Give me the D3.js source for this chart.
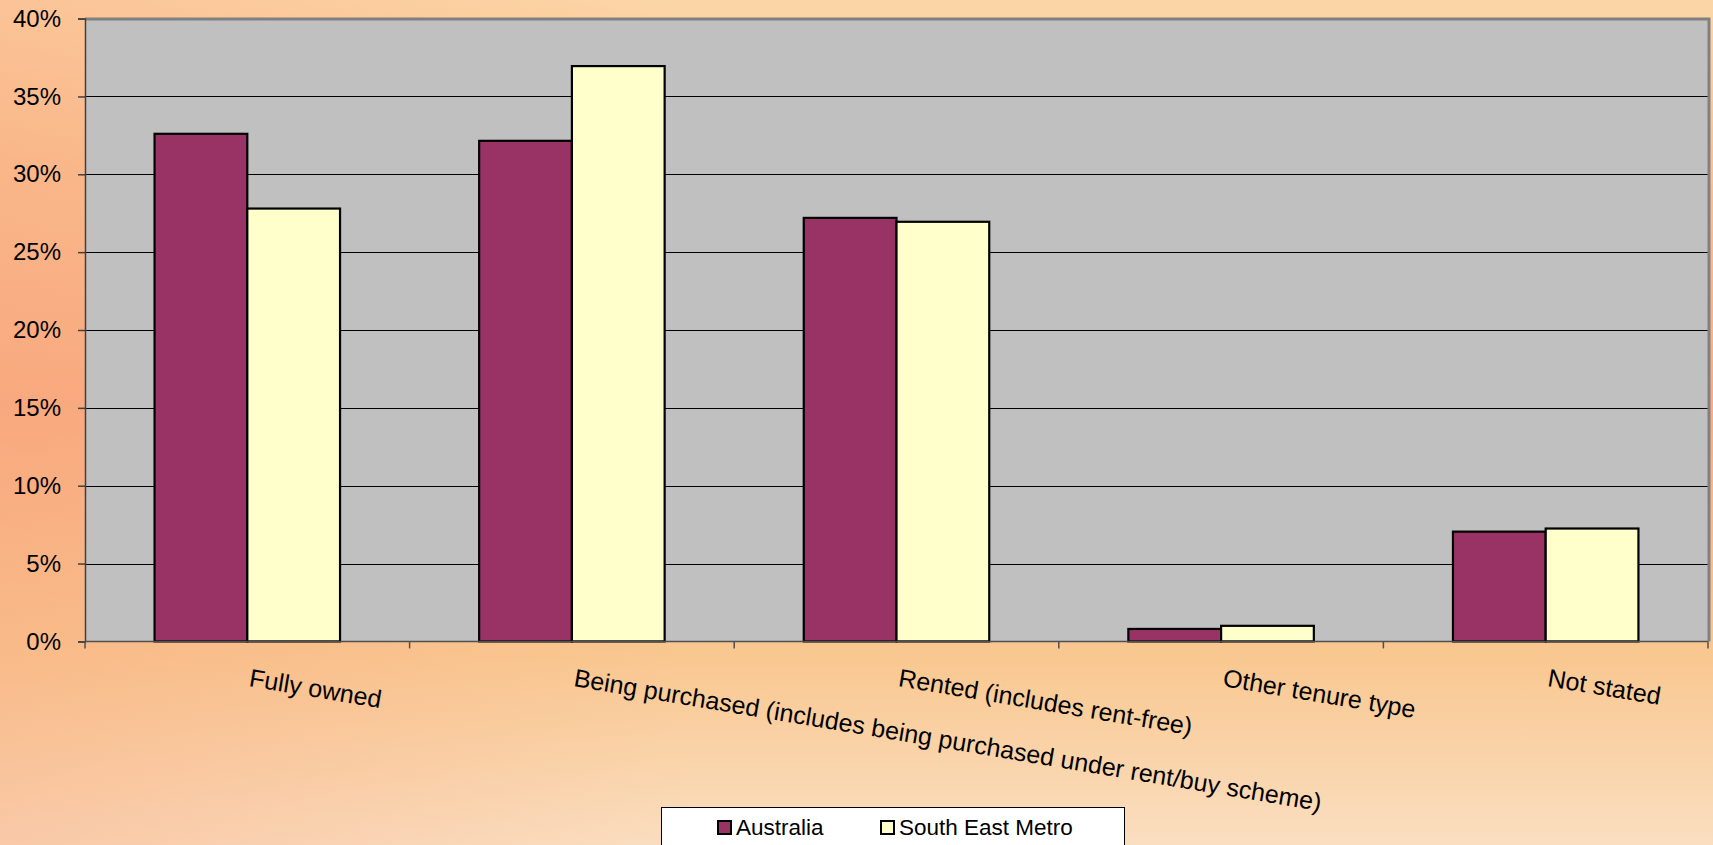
<!DOCTYPE html>
<html>
<head>
<meta charset="utf-8">
<script src="https://cdn.jsdelivr.net/npm/d3@7"></script>
<style>
  body { margin: 0; background: #fff; }
  svg { display: block; font-family: "Liberation Sans", Arial, sans-serif; }
</style>
</head>
<body>
<div id="chart"></div>
<script>
// data
var categories = ["Fully owned",
    "Being purchased (includes being purchased under rent/buy scheme)",
    "Rented (includes rent-free)",
    "Other tenure type",
    "Not stated"];
var seriesNames = ["Australia", "South East Metro"];
var australia = [32.6, 32.15, 27.2, 0.8, 7.05];
var southEastMetro = [27.8, 36.95, 26.95, 1.0, 7.25];
var yTicks = [0, 5, 10, 15, 20, 25, 30, 35, 40];
var colors = ["#993366", "#FFFFCC"];

var width = 1713, height = 845;
var plot = {left: 85, top: 18.6, right: 1708, bottom: 641.4};

var svg = d3.select("#chart").append("svg")
    .attr("width", width)
    .attr("height", height);

// background gradient
var defs = svg.append("defs");
var grad = defs.append("linearGradient")
    .attr("id", "bg").attr("x1", 0).attr("y1", 0).attr("x2", 0).attr("y2", 1);
[["0%", "#FCD6A7"], ["20%", "#FAC190"], ["48%", "#F9AC80"], ["78%", "#F9C891"], ["100%", "#FADEC0"]]
    .forEach(function (s) { grad.append("stop").attr("offset", s[0]).attr("stop-color", s[1]); });

var side = defs.append("linearGradient")
    .attr("id", "side").attr("x1", 0).attr("y1", 0).attr("x2", 1).attr("y2", 0);
side.append("stop").attr("offset", "0%").attr("stop-color", "#F8A27A").attr("stop-opacity", 0.35);
side.append("stop").attr("offset", "40%").attr("stop-color", "#F8A27A").attr("stop-opacity", 0);

svg.append("rect").attr("width", width).attr("height", height).attr("fill", "url(#bg)");
svg.append("rect").attr("width", width).attr("height", height).attr("fill", "url(#side)");

// scales
var x = d3.scaleBand()
    .domain(categories)
    .range([plot.left, plot.right])
    .paddingInner(0).paddingOuter(0);

var bandPad = x.bandwidth() * 1.5 / 3.5 / 2;   // excel gap width 150%
var xs = d3.scaleBand()
    .domain(seriesNames)
    .range([bandPad, x.bandwidth() - bandPad]);

var y = d3.scaleLinear().domain([0, 40]).range([plot.bottom, plot.top]);

// plot area
svg.append("rect")
    .attr("x", plot.left).attr("y", plot.top)
    .attr("width", plot.right - plot.left).attr("height", plot.bottom - plot.top)
    .attr("fill", "#C0C0C0");

// gridlines
svg.append("g").selectAll("line")
    .data(yTicks.filter(function (d) { return d > 0 && d < 40; }))
    .enter().append("line")
    .attr("x1", plot.left).attr("x2", plot.right)
    .attr("y1", function (d) { return Math.round(y(d)) + 0.5; })
    .attr("y2", function (d) { return Math.round(y(d)) + 0.5; })
    .attr("stroke", "#000").attr("stroke-width", 1.2);

// plot border (top / right gray)
svg.append("path")
    .attr("d", "M" + plot.left + "," + (plot.top + 0.5) + "H" + (plot.right + 1) + "V" + plot.bottom)
    .attr("fill", "none").attr("stroke", "#808080").attr("stroke-width", 3);

// bars
var rows = categories.map(function (c, i) {
    return {cat: c, vals: [australia[i], southEastMetro[i]]};
});
var groups = svg.append("g").selectAll("g")
    .data(rows).enter().append("g")
    .attr("transform", function (d) { return "translate(" + x(d.cat) + ",0)"; });

groups.selectAll("rect")
    .data(function (d) { return d.vals.map(function (v, j) { return {name: seriesNames[j], v: v, j: j}; }); })
    .enter().append("rect")
    .attr("x", function (d) { return xs(d.name); })
    .attr("width", xs.bandwidth())
    .attr("y", function (d) { return y(d.v); })
    .attr("height", function (d) { return y(0) - y(d.v); })
    .attr("fill", function (d) { return colors[d.j]; })
    .attr("stroke", "#000").attr("stroke-width", 2.2);

// y axis
var yAxis = svg.append("g")
    .attr("transform", "translate(" + plot.left + ",0)")
    .call(d3.axisLeft(y).tickValues(yTicks).tickSize(7).tickPadding(17)
        .tickFormat(function (d) { return d + "%"; }));
yAxis.select(".domain").attr("stroke", "#404040").attr("stroke-width", 1.5);
yAxis.selectAll(".tick line").attr("stroke", "#404040").attr("stroke-width", 1.5);
yAxis.selectAll("text")
    .attr("font-size", "24px").attr("fill", "#000")
    .attr("font-family", "Liberation Sans, Arial, sans-serif");

// x axis line + ticks at category boundaries
var xAx = svg.append("g");
xAx.append("line")
    .attr("x1", plot.left).attr("x2", plot.right)
    .attr("y1", plot.bottom).attr("y2", plot.bottom)
    .attr("stroke", "#505050").attr("stroke-width", 1.5);
xAx.selectAll("line.tk")
    .data(categories.map(function (c) { return x(c); }).concat([plot.right]))
    .enter().append("line").attr("class", "tk")
    .attr("x1", function (d) { return d; }).attr("x2", function (d) { return d; })
    .attr("y1", plot.bottom).attr("y2", plot.bottom + 7)
    .attr("stroke", "#505050").attr("stroke-width", 1.5);

// rotated category labels, anchored at the band centre
svg.append("g").selectAll("text")
    .data(categories).enter().append("text")
    .attr("transform", function (d) {
        return "translate(" + (x(d) + x.bandwidth() / 2 + 1) + ",686) rotate(9.5)";
    })
    .attr("font-size", "25px")
    .attr("fill", "#000")
    .text(function (d) { return d; });

// legend
var lg = svg.append("g");
lg.append("rect")
    .attr("x", 661.5).attr("y", 807.5).attr("width", 463).attr("height", 50)
    .attr("fill", "#fff").attr("stroke", "#000").attr("stroke-width", 1);
var lx = [718, 881];
seriesNames.forEach(function (n, i) {
    lg.append("rect")
        .attr("x", lx[i]).attr("y", 821).attr("width", 13).attr("height", 13)
        .attr("fill", colors[i]).attr("stroke", "#000").attr("stroke-width", 2);
    lg.append("text")
        .attr("x", lx[i] + 18).attr("y", 835)
        .attr("font-size", "22.5px").attr("fill", "#000")
        .text(n);
});
</script>
</body>
</html>
